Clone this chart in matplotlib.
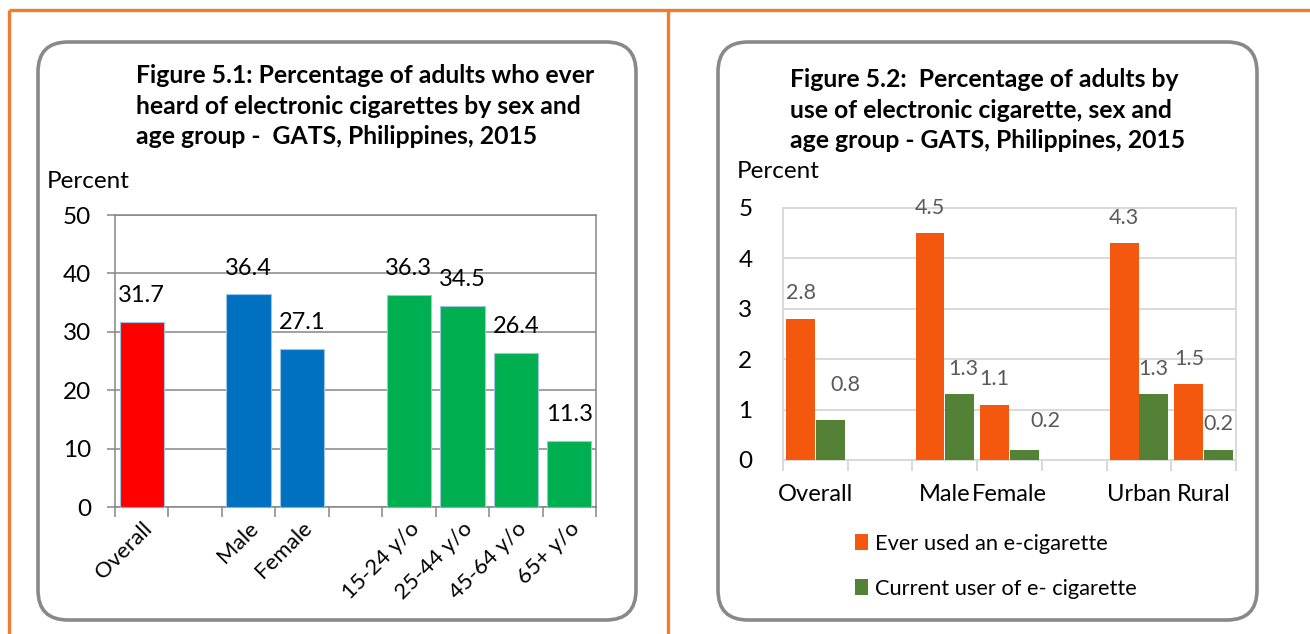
import matplotlib
matplotlib.use("Agg")
import matplotlib.pyplot as plt
from matplotlib.patches import FancyBboxPatch, Patch
import numpy as np

plt.rcParams['font.family'] = ['Lato', 'DejaVu Sans']

# ---- Figure 5.1 data: ever heard of e-cigarettes ----
fig1_labels = ['Overall', 'Male', 'Female', '15-24 y/o', '25-44 y/o', '45-64 y/o', '65+ y/o']
fig1_values = [31.7, 36.4, 27.1, 36.3, 34.5, 26.4, 11.3]
fig1_group_sizes = [1, 2, 4]
fig1_group_colors = ['#FF0000', '#0070C0', '#00B050']

# ---- Figure 5.2 data: use of e-cigarettes ----
fig2_labels = ['Overall', 'Male', 'Female', 'Urban', 'Rural']
fig2_group_sizes = [1, 2, 2]
fig2_ever_used = [2.8, 4.5, 1.1, 4.3, 1.5]
fig2_current = [0.8, 1.3, 0.2, 1.3, 0.2]
fig2_series = ['Ever used an e-cigarette', 'Current user of e- cigarette']

title1 = ('Figure 5.1: Percentage of adults who ever\n'
          'heard of electronic cigarettes by sex and\n'
          'age group -  GATS, Philippines, 2015')
title2 = ('Figure 5.2:  Percentage of adults by\n'
          'use of electronic cigarette, sex and\n'
          'age group - GATS, Philippines, 2015')

W, H = 1310, 634
fig = plt.figure(figsize=(W / 100, H / 100), dpi=100)


def slot_positions(group_sizes):
    """Category slots with one empty slot between groups."""
    pos, start = [], 0
    for n in group_sizes:
        pos.extend(range(start, start + n))
        start += n + 1
    return np.array(pos, dtype=float), start - 1


def px_axes(x0, y0, x1, y1):
    return fig.add_axes([x0 / W, (H - y1) / H, (x1 - x0) / W, (y1 - y0) / H])


# page layer in pixel coordinates
page = fig.add_axes([0, 0, 1, 1])
page.set_xlim(0, W)
page.set_ylim(H, 0)
page.axis('off')

orange = '#ED7D31'
page.plot([9, W], [10, 10], color=orange, lw=2.4, solid_capstyle='butt')
page.plot([9, 9], [10, H], color=orange, lw=2.4, solid_capstyle='butt')
page.plot([668, 668], [10, H], color=orange, lw=2.4, solid_capstyle='butt')

for (bx0, bx1) in [(38, 636), (718, 1257)]:
    page.add_patch(FancyBboxPatch((bx0, 42), bx1 - bx0, 578,
                                  boxstyle='round,pad=0,rounding_size=30',
                                  facecolor='white', edgecolor='#898989', lw=2.6))

page.text(136, 106, title1, ha='left', va='center', fontsize=17.8,
          fontweight='bold', linespacing=1.42, multialignment='left')
page.text(790, 110, title2, ha='left', va='center', fontsize=17.8,
          fontweight='bold', linespacing=1.42, multialignment='left')
page.text(47, 182, 'Percent', ha='left', va='center', fontsize=17.5)
page.text(737, 172, 'Percent', ha='left', va='center', fontsize=17.5)

# ---------------- Figure 5.1 ----------------
ax1 = px_axes(115, 215, 596, 507)
pos1, nslots1 = slot_positions(fig1_group_sizes)
colors1 = [c for c, n in zip(fig1_group_colors, fig1_group_sizes) for _ in range(n)]
bars1 = ax1.bar(pos1, fig1_values, width=0.83, color=colors1,
                edgecolor='#9DC3E6', linewidth=0.8, zorder=3)
for b, v in zip(bars1, fig1_values):
    ax1.annotate(f'{v:.1f}', (b.get_x() + b.get_width() / 2, v),
                 xytext=(0, 19), textcoords='offset points',
                 ha='center', va='center', fontsize=17, color='black')

ax1.set_xlim(-0.5, nslots1 - 0.5)
ax1.set_ylim(0, 50)
ax1.set_yticks(np.arange(0, 51, 10))
ax1.yaxis.grid(True, color='#868686', lw=1.1, zorder=0)
ax1.set_axisbelow(True)
for s in ax1.spines.values():
    s.set_color('#868686')
    s.set_linewidth(1.1)
ax1.set_xticks(pos1, fig1_labels, rotation=45, ha='right',
               rotation_mode='anchor', fontsize=16)
ax1.set_xticks(np.arange(-0.5, nslots1), minor=True)
ax1.tick_params(axis='x', which='major', length=0, pad=8)
ax1.tick_params(axis='x', which='minor', length=7, color='#868686', width=1.1)
ax1.tick_params(axis='y', length=6, color='#868686', width=1.1, labelsize=17.5, pad=11)

# ---------------- Figure 5.2 ----------------
ax2 = px_axes(783, 208, 1236, 460)
pos2, nslots2 = slot_positions(fig2_group_sizes)
bw, off = 0.445, 0.228
bars_ever = ax2.bar(pos2 - off, fig2_ever_used, width=bw, color='#F4580F',
                    label=fig2_series[0], zorder=3)
bars_cur = ax2.bar(pos2 + off, fig2_current, width=bw, color='#538135',
                   label=fig2_series[1], zorder=3)

# label nudges (points) for the current-user series
cur_dx = [11, 3, 15, 0, 0]
cur_dy = [25, 18.5, 20.5, 18.5, 18.5]
for b, v in zip(bars_ever, fig2_ever_used):
    ax2.annotate(f'{v:.1f}', (b.get_x() + b.get_width() / 2, v),
                 xytext=(0, 18.5), textcoords='offset points',
                 ha='center', va='center', fontsize=15.5, color='#595959')
for b, v, dx, dy in zip(bars_cur, fig2_current, cur_dx, cur_dy):
    ax2.annotate(f'{v:.1f}', (b.get_x() + b.get_width() / 2, v),
                 xytext=(dx, dy), textcoords='offset points',
                 ha='center', va='center', fontsize=15.5, color='#595959')

ax2.set_xlim(-0.5, nslots2 - 0.5)
ax2.set_ylim(0, 5)
ax2.set_yticks(np.arange(0, 6, 1))
ax2.yaxis.grid(True, color='#D9D9D9', lw=1.4, zorder=0)
ax2.set_axisbelow(True)
for s in ax2.spines.values():
    s.set_color('#D9D9D9')
    s.set_linewidth(1.4)
ax2.set_xticks(pos2, fig2_labels, fontsize=17)
ax2.set_xticks(np.arange(-0.5, nslots2), minor=True)
ax2.tick_params(axis='x', which='major', length=0, pad=17)
ax2.tick_params(axis='x', which='minor', length=8, color='#D9D9D9', width=1.4)
ax2.tick_params(axis='y', length=0, labelsize=17.5, pad=22)

handles = [Patch(facecolor='#F4580F'), Patch(facecolor='#538135')]
fig.legend(handles, fig2_series, loc='upper left',
           bbox_to_anchor=(835 / W, 1 - 514 / H), frameon=False, fontsize=15.75,
           handlelength=0.6, handleheight=0.75, handletextpad=0.35,
           labelspacing=1.15)

fig.savefig('out.png', dpi=100)
